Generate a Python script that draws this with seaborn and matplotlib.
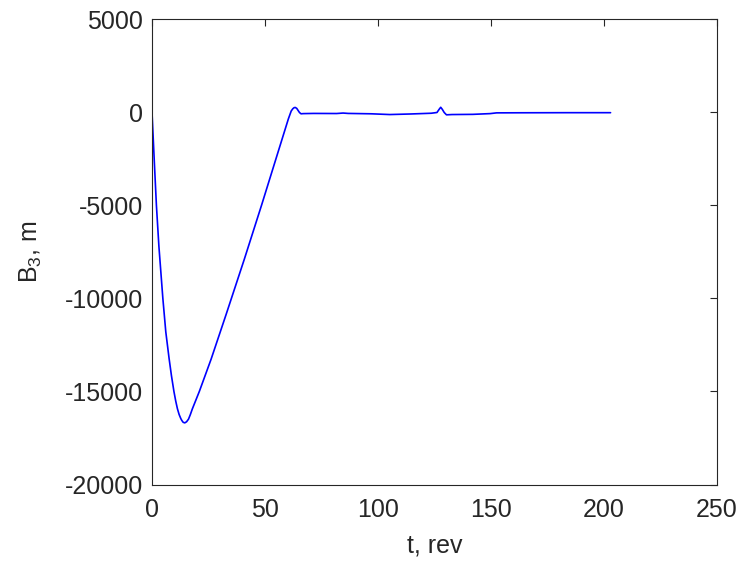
import matplotlib
matplotlib.use("Agg")
import matplotlib.pyplot as plt
import pandas as pd
import seaborn as sns

# values
t_rev = [0, 0.5, 1.0, 1.95, 3.05, 4.8, 6.1, 7.55, 8.6, 9.7, 10.5, 11.25,
         12.0, 12.75, 13.2, 13.8, 14.5, 15.3, 16.15, 16.95, 17.85, 19.4,
         20.95, 26.15, 32.8, 40.85, 48.5, 56.15, 60.35, 61.6, 62.3, 62.9,
         63.4, 64.05, 64.65, 65.25, 65.95, 66.9, 71.5, 81.7, 84.55, 86.8,
         97.0, 105.2, 114.4, 123.55, 126.1, 127.05, 127.75, 128.45, 129.3,
         130.3, 132.75, 141.95, 149.6, 152.45, 163.4, 183.8, 202.9]
b3_m = [0, -1300, -2600, -5000, -7200, -10000, -11800, -13220, -14150,
        -15000, -15520, -15930, -16240, -16460, -16560, -16660, -16690,
        -16630, -16490, -16250, -15940, -15470, -15000, -13270, -10865,
        -7900, -4990, -2000, -360, 60, 180, 240, 250, 200, 90, -20, -90,
        -80, -70, -75, -50, -70, -90, -130, -100, -60, -20, 150, 260, 150,
        -20, -145, -130, -120, -80, -40, -35, -30, -30]

df = pd.DataFrame({"t": t_rev, "B3": b3_m})

sns.set_theme(style="white")
plt.rcParams['font.family'] = ['Liberation Sans', 'DejaVu Sans']
plt.rcParams['mathtext.fontset'] = 'custom'
plt.rcParams['mathtext.rm'] = 'Liberation Sans'
plt.rcParams['mathtext.it'] = 'Liberation Sans:italic'
plt.rcParams['axes.unicode_minus'] = False

fig = plt.figure(figsize=(7.44, 5.68), dpi=100)
ax = fig.add_axes([0.2043, 0.147, 0.7594, 0.8195])

sns.lineplot(data=df, x="t", y="B3", color="#0000ff", linewidth=1.2, ax=ax,
             estimator=None, sort=False)

ax.set_xlim(0, 250)
ax.set_ylim(-20000, 5000)
ax.set_xticks([0, 50, 100, 150, 200, 250])
ax.set_yticks([-20000, -15000, -10000, -5000, 0, 5000])
ax.set_xlabel("t, rev", fontsize=18, color="#262626", labelpad=8)
ax.set_ylabel("B$_3$, m", fontsize=18, color="#262626", labelpad=15)

for s in ax.spines.values():
    s.set_visible(True)
    s.set_color("#262626")
    s.set_linewidth(0.8)
ax.tick_params(direction="in", length=5, width=0.8, colors="#262626",
               labelsize=18, top=True, right=True, labelcolor="#262626")
ax.tick_params(axis="x", pad=10)
ax.tick_params(axis="y", pad=6.5)

fig.savefig("out.png", dpi=100)
